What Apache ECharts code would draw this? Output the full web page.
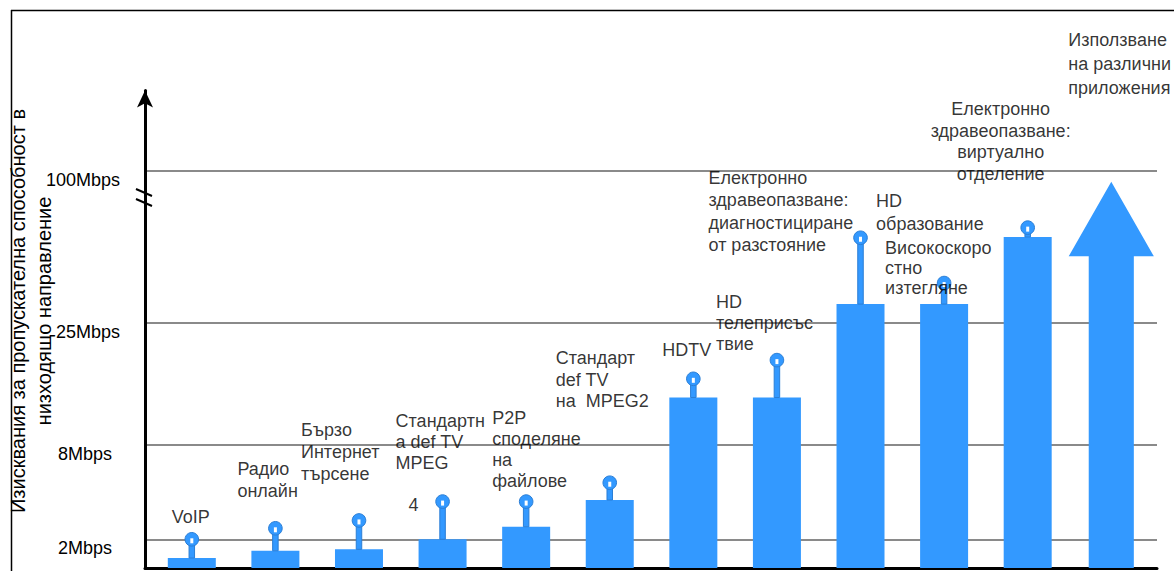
<!DOCTYPE html>
<html><head><meta charset="utf-8">
<script src="https://cdn.jsdelivr.net/npm/echarts@6/dist/echarts.min.js"></script>
<style>html,body{margin:0;padding:0;background:#fff}#c{width:1174px;height:571px}</style>
</head><body><div id="c"></div>
<script>
// ---- data ----
const categories = ['VoIP','Радио онлайн','Бързо Интернет търсене','Стандартна def TV MPEG 4','P2P споделяне на файлове','Стандарт def TV на MPEG2','HDTV','HD телеприсъствие','Електронно здравеопазване: диагностициране от разстояние','Високоскоростно изтегляне','Електронно здравеопазване: виртуално отделение','Използване на различни приложения'];
const labelTexts = ['VoIP','Радио\nонлайн','Бързо\nИнтернет\nтърсене','Стандартн\nа def TV\nMPEG\n\n{ind|4}','P2P\nсподеляне\nна\nфайлове','Стандарт\ndef TV\nна  MPEG2','HDTV','HD\nтелеприсъс\nтвие','Електронно\nздравеопазване:\nдиагностициране\nот разстояние','Високоскоро\nстно\nизтегляне','Електронно\nздравеопазване:\nвиртуално\nотделение','Използване\nна различни\nприложения'];
const extraLabelText = 'HD\nобразование';   // second application shown at category 9
const extraLabelCat = 9;
const barMbps  = [0.7, 1.2, 1.3, 2.0, 2.8, 4.5, 14.6, 14.6, 34.2, 34.2, 67.4];
const peakMbps = [2.0, 2.7, 3.2, 4.4, 4.4, 5.6, 17.2, 19.8, 67.0, 44.6, 72.0];
const arrowMbps = 94.7;
const tickMbps = [2, 8, 25, 100];
const tickLabels = ['2Mbps', '8Mbps', '25Mbps', '100Mbps'];
const yAxisTitle = 'Изисквания за пропускателна способност в\nнизходящо направление';

// ---- broken (piecewise) value scale: Mbps -> axis units ----
const scaleMbps  = [0, 2, 8, 25, 100];
const scaleUnits = [0, 28.7, 123, 245.3, 397];
function toUnits(v) {
  for (let k = 1; k < scaleMbps.length; k++) {
    if (v <= scaleMbps[k] || k === scaleMbps.length - 1) {
      const t = (v - scaleMbps[k - 1]) / (scaleMbps[k] - scaleMbps[k - 1]);
      return scaleUnits[k - 1] + t * (scaleUnits[k] - scaleUnits[k - 1]);
    }
  }
}
const tickUnits = tickMbps.map(toUnits);

// ---- label layout (offsets from anchor, line heights) ----
const labelLayout = [
  {dx:-20, dy:-33, lh:22},
  {dx:-38, dy:-70, lh:21.5},
  {dx:-58, dy:-101, lh:22},
  {dx:-47, dy:-91, lh:21},
  {dx:-34, dy:-94, lh:21},
  {dx:-54, dy:-135, lh:21.5},
  {dx:-31, dy:-40, lh:22},
  {dx:-61, dy:-69, lh:21},
  {dx:-152, dy:-71, lh:22.5},
  {dx:-59, dy:-45, lh:20},
  {dx:-27, dy:-129, lh:21.5, align:'center'},
  {dx:-43, dy:-154, lh:24}
];
const extraLayout = {dx:-68, dy:-114, lh:22.5};

const FONT = '"Liberation Sans", Arial, sans-serif';
const BLUE = '#3399ff';
const EDGE = '#2a7ed6';

function lbl(text, L) {
  return {formatter: text, offset: [L.dx, L.dy], lineHeight: L.lh, align: L.align || 'left'};
}
const labelData = labelTexts.map((t, i) => ({
  value: [i, toUnits(i < peakMbps.length ? peakMbps[i] : arrowMbps)],
  label: lbl(t, labelLayout[i])
}));
labelData.push({value: [extraLabelCat, toUnits(barMbps[extraLabelCat])], label: lbl(extraLabelText, extraLayout)});

const chart = echarts.init(document.getElementById('c'), null, {renderer: 'svg'});
chart.setOption({
  animation: false,
  backgroundColor: '#fff',
  grid: {left: 145, right: 17, top: 90.5, bottom: 3, containLabel: false},
  xAxis: {
    type: 'value', min: -0.56, max: 11.547,
    axisLine: {show: true, onZero: false, lineStyle: {color: '#000', width: 3}},
    axisTick: {show: false}, axisLabel: {show: false}, splitLine: {show: false}
  },
  yAxis: {
    type: 'value', min: 0, max: 477.5,
    axisLine: {show: true, onZero: false, symbol: ['none', 'arrow'], symbolSize: [12, 17], lineStyle: {color: '#000', width: 3}},
    axisTick: {show: false, customValues: tickUnits},
    axisLabel: {
      customValues: tickUnits, margin: 25, align: 'right', verticalAlign: 'top',
      fontSize: 18, fontFamily: FONT, color: '#000',
      formatter: function (v) {
        let k = 0, best = 1e9;
        tickUnits.forEach((u, j) => { if (Math.abs(u - v) < best) { best = Math.abs(u - v); k = j; } });
        return tickMbps[k] < 10 ? '{s|' + tickLabels[k] + '}' : tickLabels[k];
      },
      rich: {s: {padding: [0, 8, 0, 0], fontSize: 18, fontFamily: FONT, color: '#000'}}
    },
    splitLine: {show: true, lineStyle: {color: '#8a8a8a', width: 2}}
  },
  series: [
    {
      type: 'bar', name: 'bandwidth', barWidth: 48, z: 2,
      itemStyle: {color: BLUE},
      data: barMbps.map((v, i) => [i, toUnits(v)])
    },
    {
      type: 'pictorialBar', name: 'growth', z: 2,
      symbol: 'path://M42.5,0L85,75L65,75L65,388L20,388L20,75L0,75Z',
      symbolSize: [85, '100%'], symbolPosition: 'start',
      itemStyle: {color: BLUE},
      data: [[categories.length - 1, toUnits(arrowMbps)]]
    },
    {
      type: 'custom', name: 'peak', z: 3,
      encode: {x: 0, y: [1, 2]},
      renderItem: function (params, api) {
        const base = api.coord([api.value(0), api.value(1)]);
        const top = api.coord([api.value(0), api.value(2)]);
        const x = top[0], cy = top[1];
        return {type: 'group', children: [
          {type: 'rect', shape: {x: x - 2.75, y: cy, width: 5.5, height: base[1] - cy}, style: {fill: BLUE, stroke: EDGE, lineWidth: 1}},
          {type: 'circle', shape: {cx: x, cy: cy, r: 6.8}, style: {fill: BLUE, stroke: EDGE, lineWidth: 1}},
          {type: 'rect', shape: {x: x - 1.5, y: cy - 1, width: 3, height: 5}, style: {fill: '#fff'}}
        ]};
      },
      data: peakMbps.map((v, i) => [i, toUnits(barMbps[i]), toUnits(v)])
    },
    {
      type: 'scatter', name: 'labels', z: 4, symbolSize: 1, silent: true,
      itemStyle: {color: 'transparent'},
      label: {
        show: true, position: 'inside', verticalAlign: 'top',
        fontSize: 18, fontFamily: FONT, color: '#000',
        rich: {ind: {padding: [0, 0, 0, 13], fontSize: 18, fontFamily: FONT, color: '#000', lineHeight: 21}}
      },
      data: labelData
    }
  ],
  graphic: [
    {type: 'line', shape: {x1: 11, y1: 10.5, x2: 1174, y2: 10.5}, style: {stroke: '#000', lineWidth: 1.5}, z: 10},
    {type: 'line', shape: {x1: 11.5, y1: 10, x2: 11.5, y2: 571}, style: {stroke: '#000', lineWidth: 1.5}, z: 10},
    {type: 'line', shape: {x1: 136, y1: 189, x2: 152, y2: 196}, style: {stroke: '#000', lineWidth: 2}, z: 10},
    {type: 'line', shape: {x1: 136, y1: 199, x2: 152, y2: 206}, style: {stroke: '#000', lineWidth: 2}, z: 10},
    {type: 'text', x: 31, y: 311, rotation: Math.PI / 2, z: 10,
     style: {text: yAxisTitle, font: '20px ' + FONT, fill: '#000', align: 'center', verticalAlign: 'middle', lineHeight: 26}}
  ]
});
</script>
</body></html>
